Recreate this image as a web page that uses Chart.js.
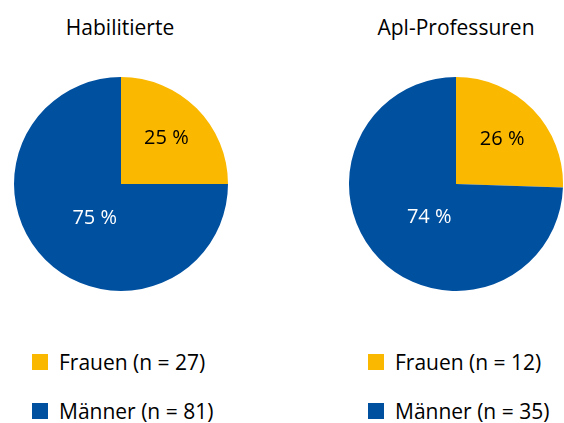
<!DOCTYPE html>
<html>
<head>
<meta charset="utf-8">
<script src="https://cdn.jsdelivr.net/npm/chart.js@4"></script>
<style>
  body { margin: 0; background: #fff; font-family: "Open Sans", sans-serif; color: #000; }
  #wrap { position: relative; width: 564px; height: 423px; overflow: hidden; }
  .titel { position: absolute; top: 11px; font-size: 21px; line-height: 32px; white-space: nowrap; transform: translateX(-50%); }
  .pie { position: absolute; top: 77px; width: 214px; height: 214px; }
  .legende { position: absolute; top: 348px; font-size: 21px; }
  .eintrag { display: flex; align-items: center; height: 28px; margin-bottom: 21px; white-space: nowrap; }
  .box { width: 16px; height: 16px; margin-right: 11px; }
</style>
</head>
<body>
<div id="wrap">
  <div class="titel" id="titel1" style="left:120px"></div>
  <div class="titel" id="titel2" style="left:456px"></div>
  <canvas class="pie" id="pie1" style="left:14px"></canvas>
  <canvas class="pie" id="pie2" style="left:349px"></canvas>
  <div class="legende" id="leg1" style="left:32px"></div>
  <div class="legende" id="leg2" style="left:368px"></div>
</div>
<script>
const titel = ['Habilitierte', 'Apl-Professuren'];
const gruppen = ['Frauen', 'Männer'];
const anzahlHabil = [27, 81];
const anzahlApl = [12, 35];
const prozentHabil = ['25 %', '75 %'];
const prozentApl = ['26 %', '74 %'];
const farben = ['#FBB800', '#0050A0'];
const textFarben = ['#000000', '#FFFFFF'];

// Prozent-Beschriftung im Kreissegment
const prozentLabels = {
  id: 'prozentLabels',
  afterDatasetsDraw(chart, args, opts) {
    const ctx = chart.ctx;
    const meta = chart.getDatasetMeta(0);
    ctx.save();
    ctx.font = '20px "Open Sans", sans-serif';
    ctx.textAlign = 'center';
    ctx.textBaseline = 'middle';
    meta.data.forEach((arc, i) => {
      const p = arc.getProps(['x', 'y', 'startAngle', 'endAngle', 'outerRadius'], true);
      const mitte = (p.startAngle + p.endAngle) / 2;
      const anteil = (p.endAngle - p.startAngle) < Math.PI ? 0.6 : 0.4;
      const r = p.outerRadius * anteil;
      ctx.fillStyle = textFarben[i];
      ctx.fillText(opts.texte[i], p.x + Math.cos(mitte) * r + (i === 1 ? 4 : 0), p.y + Math.sin(mitte) * r + (i === 1 ? 4 : 0));
    });
    ctx.restore();
  }
};

function zeichnePie(id, werte, texte) {
  new Chart(document.getElementById(id), {
    type: 'pie',
    data: {
      labels: gruppen,
      datasets: [{ data: werte, backgroundColor: farben, borderWidth: 0 }]
    },
    options: {
      responsive: false,
      animation: false,
      layout: { padding: 0 },
      plugins: {
        legend: { display: false },
        tooltip: { enabled: false },
        prozentLabels: { texte: texte }
      }
    },
    plugins: [prozentLabels]
  });
}

function legende(id, werte) {
  const el = document.getElementById(id);
  gruppen.forEach((g, i) => {
    const row = document.createElement('div');
    row.className = 'eintrag';
    const box = document.createElement('span');
    box.className = 'box';
    box.style.background = farben[i];
    const txt = document.createElement('span');
    txt.textContent = `${g} (n = ${werte[i]})`;
    row.appendChild(box);
    row.appendChild(txt);
    el.appendChild(row);
  });
}

document.getElementById('titel1').textContent = titel[0];
document.getElementById('titel2').textContent = titel[1];
document.getElementById('pie1').width = 214; document.getElementById('pie1').height = 214;
document.getElementById('pie2').width = 214; document.getElementById('pie2').height = 214;
zeichnePie('pie1', anzahlHabil, prozentHabil);
zeichnePie('pie2', anzahlApl, prozentApl);
legende('leg1', anzahlHabil);
legende('leg2', anzahlApl);
</script>
</body>
</html>
